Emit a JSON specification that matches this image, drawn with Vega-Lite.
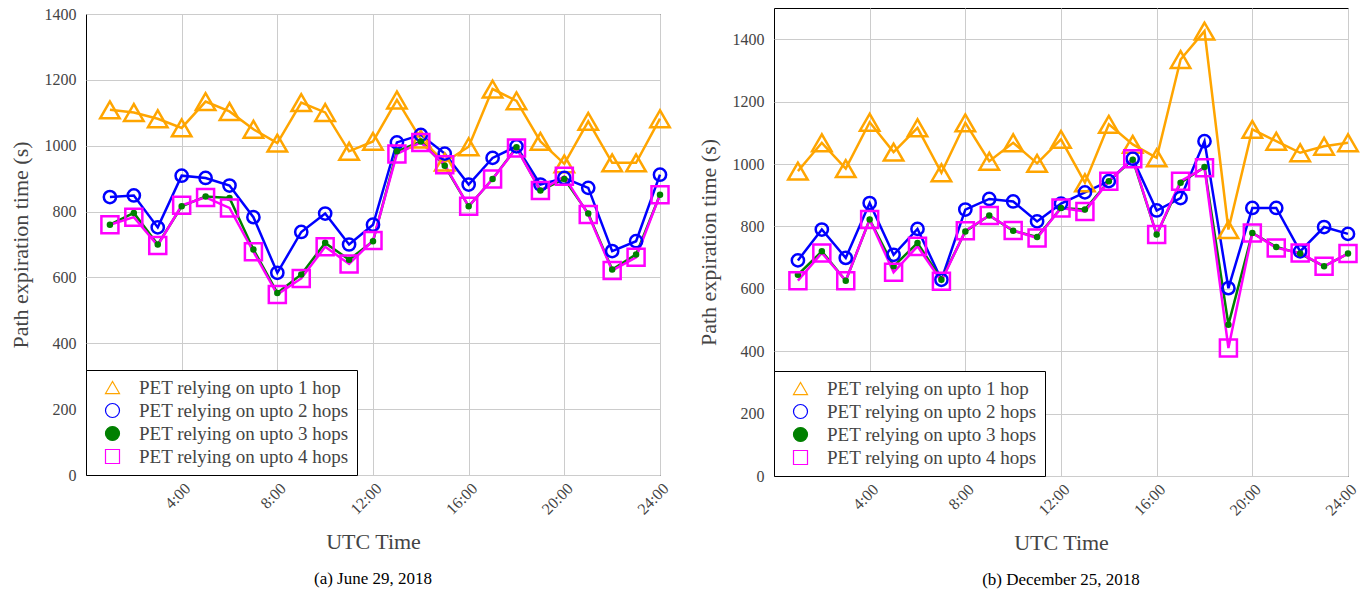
{
  "$schema": "https://vega.github.io/schema/vega-lite/v6.json",
  "background": "white",
  "padding": {"left": 8, "top": 5, "right": 5, "bottom": 5},
  "spacing": 20,
  "resolve": {"scale": {"color": "independent", "stroke": "independent", "fill": "independent", "shape": "independent"}},
  "config": {
    "font": "Liberation Serif",
    "view": {"stroke": "black", "strokeWidth": 1},
    "axis": {
      "labelFont": "Liberation Serif", "labelFontSize": 16, "labelColor": "#444444",
      "titleFont": "Liberation Serif", "titleFontSize": 22, "titleFontWeight": "normal", "titleColor": "#444444",
      "gridColor": "#cccccc", "gridWidth": 1, "domain": false, "ticks": false
    },
    "legend": {
      "orient": "bottom-left", "offset": 0, "padding": 8, "strokeColor": "black", "fillColor": "white",
      "labelFont": "Liberation Serif", "labelFontSize": 19, "labelColor": "#444444", "labelLimit": 500,
      "symbolStrokeWidth": 1.2, "symbolSize": 196, "rowPadding": 3, "labelOffset": 17, "symbolOffset": 9,
      "cornerRadius": 0, "strokeWidth": 1
    }
  },
  "datasets": {
    "june": [
      {"h": 1, "PET relying on upto 1 hop": 1109, "PET relying on upto 2 hops": 844, "PET relying on upto 3 hops": 760, "PET relying on upto 4 hops": 760},
      {"h": 2, "PET relying on upto 1 hop": 1101, "PET relying on upto 2 hops": 849, "PET relying on upto 3 hops": 796, "PET relying on upto 4 hops": 783},
      {"h": 3, "PET relying on upto 1 hop": 1082, "PET relying on upto 2 hops": 752, "PET relying on upto 3 hops": 700, "PET relying on upto 4 hops": 697},
      {"h": 4, "PET relying on upto 1 hop": 1054, "PET relying on upto 2 hops": 909, "PET relying on upto 3 hops": 816, "PET relying on upto 4 hops": 819},
      {"h": 5, "PET relying on upto 1 hop": 1134, "PET relying on upto 2 hops": 902, "PET relying on upto 3 hops": 846, "PET relying on upto 4 hops": 843},
      {"h": 6, "PET relying on upto 1 hop": 1104, "PET relying on upto 2 hops": 879, "PET relying on upto 3 hops": 841, "PET relying on upto 4 hops": 811},
      {"h": 7, "PET relying on upto 1 hop": 1050, "PET relying on upto 2 hops": 783, "PET relying on upto 3 hops": 685, "PET relying on upto 4 hops": 678},
      {"h": 8, "PET relying on upto 1 hop": 1008, "PET relying on upto 2 hops": 614, "PET relying on upto 3 hops": 553, "PET relying on upto 4 hops": 548},
      {"h": 9, "PET relying on upto 1 hop": 1131, "PET relying on upto 2 hops": 738, "PET relying on upto 3 hops": 609, "PET relying on upto 4 hops": 597},
      {"h": 10, "PET relying on upto 1 hop": 1101, "PET relying on upto 2 hops": 794, "PET relying on upto 3 hops": 705, "PET relying on upto 4 hops": 693},
      {"h": 11, "PET relying on upto 1 hop": 983, "PET relying on upto 2 hops": 700, "PET relying on upto 3 hops": 654, "PET relying on upto 4 hops": 641},
      {"h": 12, "PET relying on upto 1 hop": 1013, "PET relying on upto 2 hops": 760, "PET relying on upto 3 hops": 710, "PET relying on upto 4 hops": 712},
      {"h": 13, "PET relying on upto 1 hop": 1139, "PET relying on upto 2 hops": 1010, "PET relying on upto 3 hops": 983, "PET relying on upto 4 hops": 975},
      {"h": 14, "PET relying on upto 1 hop": 1020, "PET relying on upto 2 hops": 1033, "PET relying on upto 3 hops": 1013, "PET relying on upto 4 hops": 1010},
      {"h": 15, "PET relying on upto 1 hop": 950, "PET relying on upto 2 hops": 976, "PET relying on upto 3 hops": 939, "PET relying on upto 4 hops": 942},
      {"h": 16, "PET relying on upto 1 hop": 997, "PET relying on upto 2 hops": 882, "PET relying on upto 3 hops": 816, "PET relying on upto 4 hops": 816},
      {"h": 17, "PET relying on upto 1 hop": 1172, "PET relying on upto 2 hops": 963, "PET relying on upto 3 hops": 899, "PET relying on upto 4 hops": 899},
      {"h": 18, "PET relying on upto 1 hop": 1136, "PET relying on upto 2 hops": 998, "PET relying on upto 3 hops": 995, "PET relying on upto 4 hops": 993},
      {"h": 19, "PET relying on upto 1 hop": 1013, "PET relying on upto 2 hops": 882, "PET relying on upto 3 hops": 864, "PET relying on upto 4 hops": 864},
      {"h": 20, "PET relying on upto 1 hop": 945, "PET relying on upto 2 hops": 902, "PET relying on upto 3 hops": 899, "PET relying on upto 4 hops": 907},
      {"h": 21, "PET relying on upto 1 hop": 1074, "PET relying on upto 2 hops": 872, "PET relying on upto 3 hops": 794, "PET relying on upto 4 hops": 791},
      {"h": 22, "PET relying on upto 1 hop": 948, "PET relying on upto 2 hops": 680, "PET relying on upto 3 hops": 624, "PET relying on upto 4 hops": 621},
      {"h": 23, "PET relying on upto 1 hop": 948, "PET relying on upto 2 hops": 710, "PET relying on upto 3 hops": 670, "PET relying on upto 4 hops": 661},
      {"h": 24, "PET relying on upto 1 hop": 1082, "PET relying on upto 2 hops": 912, "PET relying on upto 3 hops": 851, "PET relying on upto 4 hops": 851}
    ],
    "dec": [
      {"h": 1, "PET relying on upto 1 hop": 977, "PET relying on upto 2 hops": 691, "PET relying on upto 3 hops": 645, "PET relying on upto 4 hops": 626},
      {"h": 2, "PET relying on upto 1 hop": 1068, "PET relying on upto 2 hops": 790, "PET relying on upto 3 hops": 720, "PET relying on upto 4 hops": 715},
      {"h": 3, "PET relying on upto 1 hop": 985, "PET relying on upto 2 hops": 699, "PET relying on upto 3 hops": 626, "PET relying on upto 4 hops": 626},
      {"h": 4, "PET relying on upto 1 hop": 1134, "PET relying on upto 2 hops": 875, "PET relying on upto 3 hops": 822, "PET relying on upto 4 hops": 822},
      {"h": 5, "PET relying on upto 1 hop": 1038, "PET relying on upto 2 hops": 709, "PET relying on upto 3 hops": 672, "PET relying on upto 4 hops": 653},
      {"h": 6, "PET relying on upto 1 hop": 1116, "PET relying on upto 2 hops": 792, "PET relying on upto 3 hops": 747, "PET relying on upto 4 hops": 736},
      {"h": 7, "PET relying on upto 1 hop": 972, "PET relying on upto 2 hops": 629, "PET relying on upto 3 hops": 629, "PET relying on upto 4 hops": 624},
      {"h": 8, "PET relying on upto 1 hop": 1132, "PET relying on upto 2 hops": 854, "PET relying on upto 3 hops": 784, "PET relying on upto 4 hops": 786},
      {"h": 9, "PET relying on upto 1 hop": 1009, "PET relying on upto 2 hops": 888, "PET relying on upto 3 hops": 835, "PET relying on upto 4 hops": 835},
      {"h": 10, "PET relying on upto 1 hop": 1068, "PET relying on upto 2 hops": 880, "PET relying on upto 3 hops": 786, "PET relying on upto 4 hops": 787},
      {"h": 11, "PET relying on upto 1 hop": 1002, "PET relying on upto 2 hops": 816, "PET relying on upto 3 hops": 766, "PET relying on upto 4 hops": 763},
      {"h": 12, "PET relying on upto 1 hop": 1079, "PET relying on upto 2 hops": 873, "PET relying on upto 3 hops": 859, "PET relying on upto 4 hops": 859},
      {"h": 13, "PET relying on upto 1 hop": 940, "PET relying on upto 2 hops": 909, "PET relying on upto 3 hops": 854, "PET relying on upto 4 hops": 848},
      {"h": 14, "PET relying on upto 1 hop": 1127, "PET relying on upto 2 hops": 945, "PET relying on upto 3 hops": 945, "PET relying on upto 4 hops": 945},
      {"h": 15, "PET relying on upto 1 hop": 1063, "PET relying on upto 2 hops": 1017, "PET relying on upto 3 hops": 1014, "PET relying on upto 4 hops": 1017},
      {"h": 16, "PET relying on upto 1 hop": 1020, "PET relying on upto 2 hops": 851, "PET relying on upto 3 hops": 774, "PET relying on upto 4 hops": 774},
      {"h": 17, "PET relying on upto 1 hop": 1335, "PET relying on upto 2 hops": 891, "PET relying on upto 3 hops": 940, "PET relying on upto 4 hops": 945},
      {"h": 18, "PET relying on upto 1 hop": 1426, "PET relying on upto 2 hops": 1073, "PET relying on upto 3 hops": 990, "PET relying on upto 4 hops": 988},
      {"h": 19, "PET relying on upto 1 hop": 790, "PET relying on upto 2 hops": 602, "PET relying on upto 3 hops": 485, "PET relying on upto 4 hops": 410},
      {"h": 20, "PET relying on upto 1 hop": 1111, "PET relying on upto 2 hops": 859, "PET relying on upto 3 hops": 779, "PET relying on upto 4 hops": 779},
      {"h": 21, "PET relying on upto 1 hop": 1073, "PET relying on upto 2 hops": 859, "PET relying on upto 3 hops": 734, "PET relying on upto 4 hops": 731},
      {"h": 22, "PET relying on upto 1 hop": 1036, "PET relying on upto 2 hops": 720, "PET relying on upto 3 hops": 713, "PET relying on upto 4 hops": 715},
      {"h": 23, "PET relying on upto 1 hop": 1057, "PET relying on upto 2 hops": 798, "PET relying on upto 3 hops": 672, "PET relying on upto 4 hops": 672},
      {"h": 24, "PET relying on upto 1 hop": 1068, "PET relying on upto 2 hops": 776, "PET relying on upto 3 hops": 713, "PET relying on upto 4 hops": 713}
    ]
  },
  "hconcat": [
    {
      "spacing": -4,
      "resolve": {"scale": {"color": "independent", "stroke": "independent", "fill": "independent", "shape": "independent"}},
      "vconcat": [
        {"width": 574, "height": 1, "view": {"stroke": null}, "data": {"values": []}, "mark": "point"},
        {
          "width": 574, "height": 461,
          "title": {"text": "(a) June 29, 2018", "orient": "bottom", "anchor": "middle", "font": "Liberation Serif", "fontSize": 17, "fontWeight": "normal", "color": "black", "offset": 19},
          "data": {"name": "june"},
          "transform": [{"fold": ["PET relying on upto 1 hop", "PET relying on upto 2 hops", "PET relying on upto 3 hops", "PET relying on upto 4 hops"], "as": ["series", "v"]}],
          "encoding": {
            "x": {"field": "h", "type": "quantitative", "scale": {"domain": [0, 24], "nice": false},
              "axis": {"values": [4, 8, 12, 16, 20, 24], "labelExpr": "datum.value + ':00'", "labelAngle": -45, "labelPadding": 5, "title": "UTC Time", "titlePadding": 14}},
            "y": {"field": "v", "type": "quantitative", "scale": {"domain": [0, 1400], "nice": false},
              "axis": {"values": [0, 200, 400, 600, 800, 1000, 1200, 1400], "format": "d", "labelPadding": 10, "title": "Path expiration time (s)", "titlePadding": 12}}
          },
          "layer": [
            {"mark": {"type": "line", "strokeWidth": 2.5},
              "encoding": {"color": {"field": "series", "type": "nominal", "scale": {"domain": ["PET relying on upto 1 hop", "PET relying on upto 2 hops", "PET relying on upto 3 hops", "PET relying on upto 4 hops"], "range": ["#FFA500", "#0000FF", "#008000", "#FF00FF"]}, "legend": null}}},
            {"mark": {"type": "point", "strokeWidth": 2.5, "opacity": 1},
              "encoding": {
                "stroke": {"field": "series", "type": "nominal", "scale": {"range": ["#FFA500", "#0000FF", "#008000", "#FF00FF"]},
                  "legend": {"title": null, "labelFont": "Liberation Serif", "encode": {"symbols": {
                    "size": {"condition": {"test": "datum.value === 'PET relying on upto 3 hops'", "value": 36}, "value": 196}}}}},
                "fill": {"field": "series", "type": "nominal", "scale": {"range": ["transparent", "transparent", "#008000", "transparent"]},
                  "legend": {"title": null, "labelFont": "Liberation Serif", "encode": {"symbols": {
                    "size": {"condition": {"test": "datum.value === 'PET relying on upto 3 hops'", "value": 36}, "value": 196}}}}},
                "shape": {"field": "series", "type": "nominal", "scale": {"range": ["triangle-up", "circle", "circle", "square"]},
                  "legend": {"title": null, "labelFont": "Liberation Serif", "encode": {"symbols": {
                    "size": {"condition": {"test": "datum.value === 'PET relying on upto 3 hops'", "value": 36}, "value": 196}}}}},
                "size": {"condition": [
                  {"test": "datum.series === 'PET relying on upto 1 hop'", "value": 380},
                  {"test": "datum.series === 'PET relying on upto 2 hops'", "value": 150},
                  {"test": "datum.series === 'PET relying on upto 3 hops'", "value": 16}], "value": 290}
              }}
          ]
        }
      ]
    },
    {
      "width": 574, "height": 468,
      "title": {"text": "(b) December 25, 2018", "orient": "bottom", "anchor": "middle", "font": "Liberation Serif", "fontSize": 17, "fontWeight": "normal", "color": "black", "offset": 19},
      "data": {"name": "dec"},
      "transform": [{"fold": ["PET relying on upto 1 hop", "PET relying on upto 2 hops", "PET relying on upto 3 hops", "PET relying on upto 4 hops"], "as": ["series", "v"]}],
      "encoding": {
        "x": {"field": "h", "type": "quantitative", "scale": {"domain": [0, 24], "nice": false},
          "axis": {"values": [4, 8, 12, 16, 20, 24], "labelExpr": "datum.value + ':00'", "labelAngle": -45, "labelPadding": 5, "title": "UTC Time", "titlePadding": 14}},
        "y": {"field": "v", "type": "quantitative", "scale": {"domain": [0, 1500], "nice": false},
          "axis": {"values": [0, 200, 400, 600, 800, 1000, 1200, 1400], "format": "d", "labelPadding": 10, "title": "Path expiration time (s)", "titlePadding": 12}}
      },
      "layer": [
        {"mark": {"type": "line", "strokeWidth": 2.5},
          "encoding": {"color": {"field": "series", "type": "nominal", "scale": {"domain": ["PET relying on upto 1 hop", "PET relying on upto 2 hops", "PET relying on upto 3 hops", "PET relying on upto 4 hops"], "range": ["#FFA500", "#0000FF", "#008000", "#FF00FF"]}, "legend": null}}},
        {"mark": {"type": "point", "strokeWidth": 2.5, "opacity": 1},
          "encoding": {
            "stroke": {"field": "series", "type": "nominal", "scale": {"range": ["#FFA500", "#0000FF", "#008000", "#FF00FF"]},
              "legend": {"title": null, "labelFont": "Liberation Serif", "encode": {"symbols": {
                "size": {"condition": {"test": "datum.value === 'PET relying on upto 3 hops'", "value": 36}, "value": 196}}}}},
            "fill": {"field": "series", "type": "nominal", "scale": {"range": ["transparent", "transparent", "#008000", "transparent"]},
              "legend": {"title": null, "labelFont": "Liberation Serif", "encode": {"symbols": {
                "size": {"condition": {"test": "datum.value === 'PET relying on upto 3 hops'", "value": 36}, "value": 196}}}}},
            "shape": {"field": "series", "type": "nominal", "scale": {"range": ["triangle-up", "circle", "circle", "square"]},
              "legend": {"title": null, "labelFont": "Liberation Serif", "encode": {"symbols": {
                "size": {"condition": {"test": "datum.value === 'PET relying on upto 3 hops'", "value": 36}, "value": 196}}}}},
            "size": {"condition": [
              {"test": "datum.series === 'PET relying on upto 1 hop'", "value": 380},
              {"test": "datum.series === 'PET relying on upto 2 hops'", "value": 150},
              {"test": "datum.series === 'PET relying on upto 3 hops'", "value": 16}], "value": 290}
          }}
      ]
    }
  ]
}
